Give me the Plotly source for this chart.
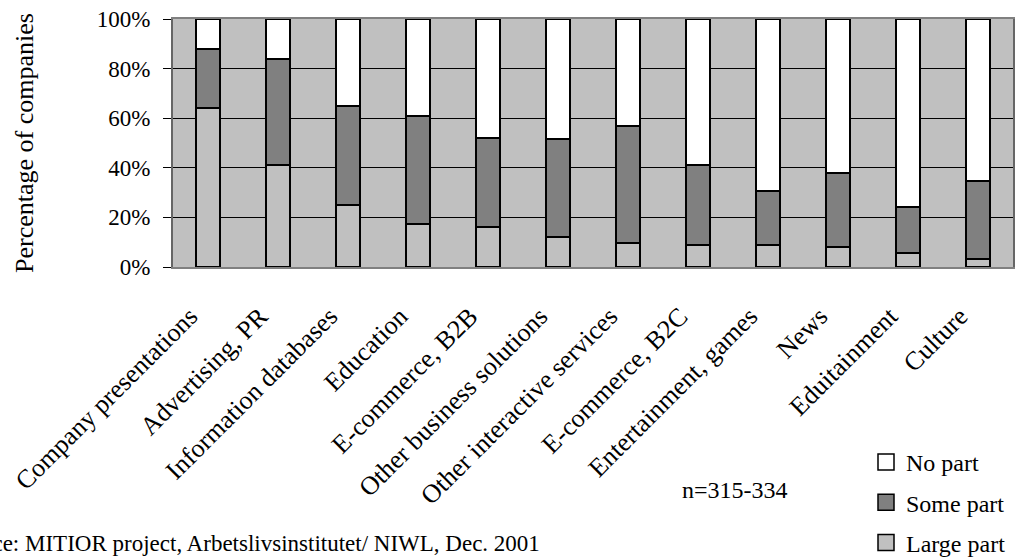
import plotly.graph_objects as go

# Share of companies by area, split by how large a part of the business it is
categories = [
    "Company presentations", "Advertising, PR", "Information databases",
    "Education", "E-commerce, B2B", "Other business solutions",
    "Other interactive services", "E-commerce, B2C", "Entertainment, games",
    "News", "Eduitainment", "Culture",
]
large_part = [64, 41, 25, 17.5, 16, 12, 9.5, 8.7, 8.9, 7.9, 5.6, 3.3]
some_part = [24, 43, 40, 43.5, 36, 39.5, 47.5, 32.3, 21.6, 30.1, 18.4, 31.2]
no_part = [12, 16, 35, 39, 48, 48.5, 43, 59, 69.5, 62, 76, 65.5]

y_ticks = [0, 20, 40, 60, 80, 100]

FONT = "Liberation Serif"
W, H = 1018, 560
L, R, T, B = 173, 5, 19, 293
plot_w = W - L - R
plot_h = H - T - B


def px_x(x):
    return (x - L) / plot_w


def px_y(y):
    return (H - B - y) / plot_h


series = [
    ("Large part", large_part, "#C0C0C0"),
    ("Some part", some_part, "#808080"),
    ("No part", no_part, "#FFFFFF"),
]

fig = go.Figure()
for name, vals, color in series:
    fig.add_trace(go.Bar(
        x=categories, y=vals, name=name, showlegend=False,
        marker=dict(color=color, line=dict(color="black", width=2)),
        width=0.34,
    ))

# Legend keys: square swatches listed top to bottom as No / Some / Large part
for name, _, color in reversed(series):
    fig.add_trace(go.Scatter(
        x=[None], y=[None], mode="markers", name=name, legendgroup=name,
        marker=dict(symbol="square", size=17, color=color,
                    line=dict(color="black", width=1.5)),
    ))

fig.update_layout(
    width=W, height=H,
    margin=dict(l=L, r=R, t=T, b=B, pad=0, autoexpand=False),
    barmode="stack",
    paper_bgcolor="white",
    plot_bgcolor="#C0C0C0",
    font=dict(family=FONT, size=24, color="black"),
    showlegend=True,
    legend=dict(
        x=px_x(866), y=px_y(440), xanchor="left", yanchor="top",
        traceorder="grouped", tracegroupgap=6, itemsizing="trace",
        font=dict(family=FONT, size=24, color="black"),
        bgcolor="rgba(0,0,0,0)", itemwidth=30,
    ),
    xaxis=dict(
        tickangle=-45, tickfont=dict(family=FONT, size=26),
        ticklabelstandoff=22, ticklabelshift=-18,
        showline=True, linecolor="#808080", linewidth=1.5, mirror=True,
        ticks="", showgrid=False, automargin=False,
    ),
    yaxis=dict(
        range=[0, 100], tickvals=y_ticks,
        ticktext=[f"{v}%" for v in y_ticks],
        tickfont=dict(family=FONT, size=23), ticklabelstandoff=8,
        ticks="outside", ticklen=8, tickcolor="black", tickwidth=1,
        showline=True, linecolor="#666666", linewidth=2, mirror=True,
        showgrid=True, gridcolor="black", gridwidth=1, zeroline=False,
        automargin=False,
        title=dict(text="Percentage of companies",
                   font=dict(family=FONT, size=26), standoff=56),
    ),
    annotations=[
        dict(text="n=315-334", xref="paper", yref="paper",
             x=px_x(735), y=px_y(490), xanchor="center", yanchor="middle",
             showarrow=False, font=dict(family=FONT, size=24)),
        dict(text="Source: MITIOR project, Arbetslivsinstitutet/ NIWL, Dec. 2001",
             xref="paper", yref="paper",
             x=px_x(-53), y=px_y(543), xanchor="left", yanchor="middle",
             showarrow=False, font=dict(family=FONT, size=23)),
    ],
)

fig.write_html("out.html")
